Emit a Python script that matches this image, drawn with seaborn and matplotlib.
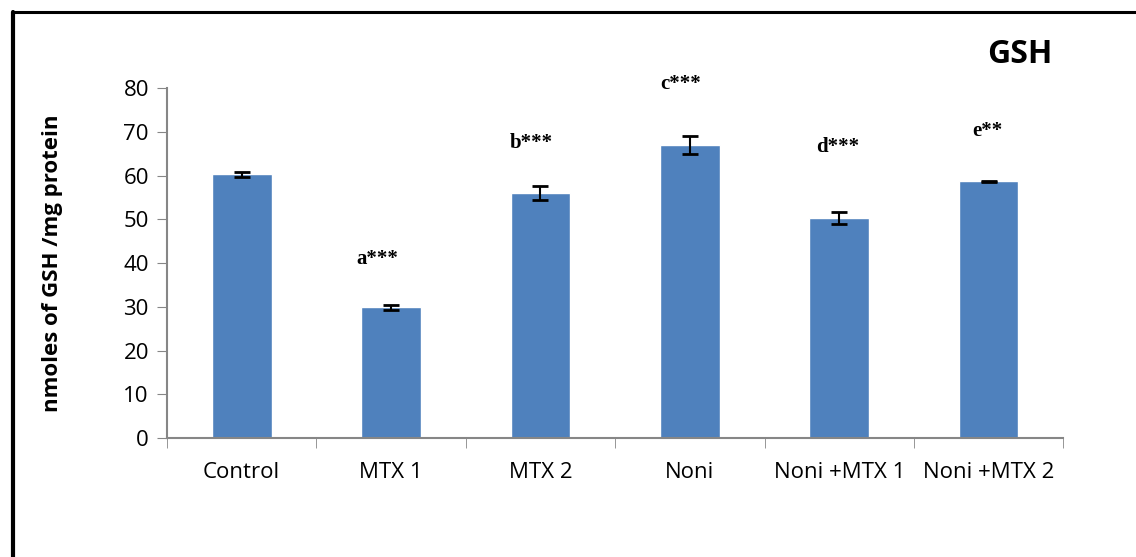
import numpy as np
import matplotlib
matplotlib.use('Agg')
import matplotlib.pyplot as plt
from matplotlib.lines import Line2D
import seaborn as sns

# GSH levels per group
groups = ['Control', 'MTX 1', 'MTX 2', 'Noni', 'Noni +MTX 1', 'Noni +MTX 2']
gsh_mean = [60.3, 29.9, 56.0, 67.0, 50.3, 58.7]
gsh_err = [0.6, 0.6, 1.7, 2.0, 1.3, 0.15]
sig_labels = ['', 'a***', 'b***', 'c***', 'd***', 'e**']
sig_y = [None, 41.0, 67.4, 80.9, 66.5, 70.2]
sig_dx = [0, -0.09, -0.06, -0.06, -0.01, -0.01]  # small offsets as in the original

sns.set_style('white')
plt.rcParams['font.family'] = ['Open Sans', 'DejaVu Sans']
plt.rcParams['text.color'] = 'black'
plt.rcParams['axes.labelcolor'] = 'black'

fig = plt.figure(figsize=(11.36, 5.57), dpi=100)
ax = fig.add_axes([0.147, 0.2136, 0.789, 0.6284])

sns.barplot(x=groups, y=gsh_mean, color='#4F81BD', width=0.4, saturation=1, ax=ax)
ax.errorbar(np.arange(len(groups)), gsh_mean, yerr=gsh_err, fmt='none',
            ecolor='black', elinewidth=1.5, capsize=6, capthick=2)

for i, (lab, yy) in enumerate(zip(sig_labels, sig_y)):
    if lab:
        ax.text(i + sig_dx[i], yy, lab, ha='center', va='center', fontsize=15,
                fontweight='bold', family='Liberation Serif', color='black')

ax.set_ylim(0, 80)
ax.set_xlim(-0.5, len(groups) - 0.5)
ax.set_yticks(range(0, 81, 10))
ax.tick_params(axis='y', labelsize=16, length=7, color='#868686', labelcolor='black',
               direction='out', left=True, pad=6)
ax.tick_params(axis='x', which='major', labelsize=16, length=0, pad=17, labelcolor='black')
ax.set_xticks(np.arange(-0.5, len(groups), 1.0), minor=True)
ax.tick_params(axis='x', which='minor', length=7, color='#868686', direction='out', bottom=True)
for s in ['top', 'right']:
    ax.spines[s].set_visible(False)
for s in ['left', 'bottom']:
    ax.spines[s].set_color('#868686')
    ax.spines[s].set_linewidth(1.5)

ax.set_ylabel('nmoles of GSH /mg protein', fontsize=16, fontweight='bold')
ax.yaxis.set_label_coords(-0.116, 0.5)
ax.set_xlabel('')

fig.text(0.898, 0.902, 'GSH', fontsize=23, fontweight='bold', ha='center', va='center')

# frame lines from the original figure box
fig.add_artist(Line2D([0.0115, 0.0115], [0, 0.979], color='black', lw=3))
fig.add_artist(Line2D([0.0115, 1], [0.979, 0.979], color='black', lw=2.2))

fig.savefig('out.png', dpi=100)
